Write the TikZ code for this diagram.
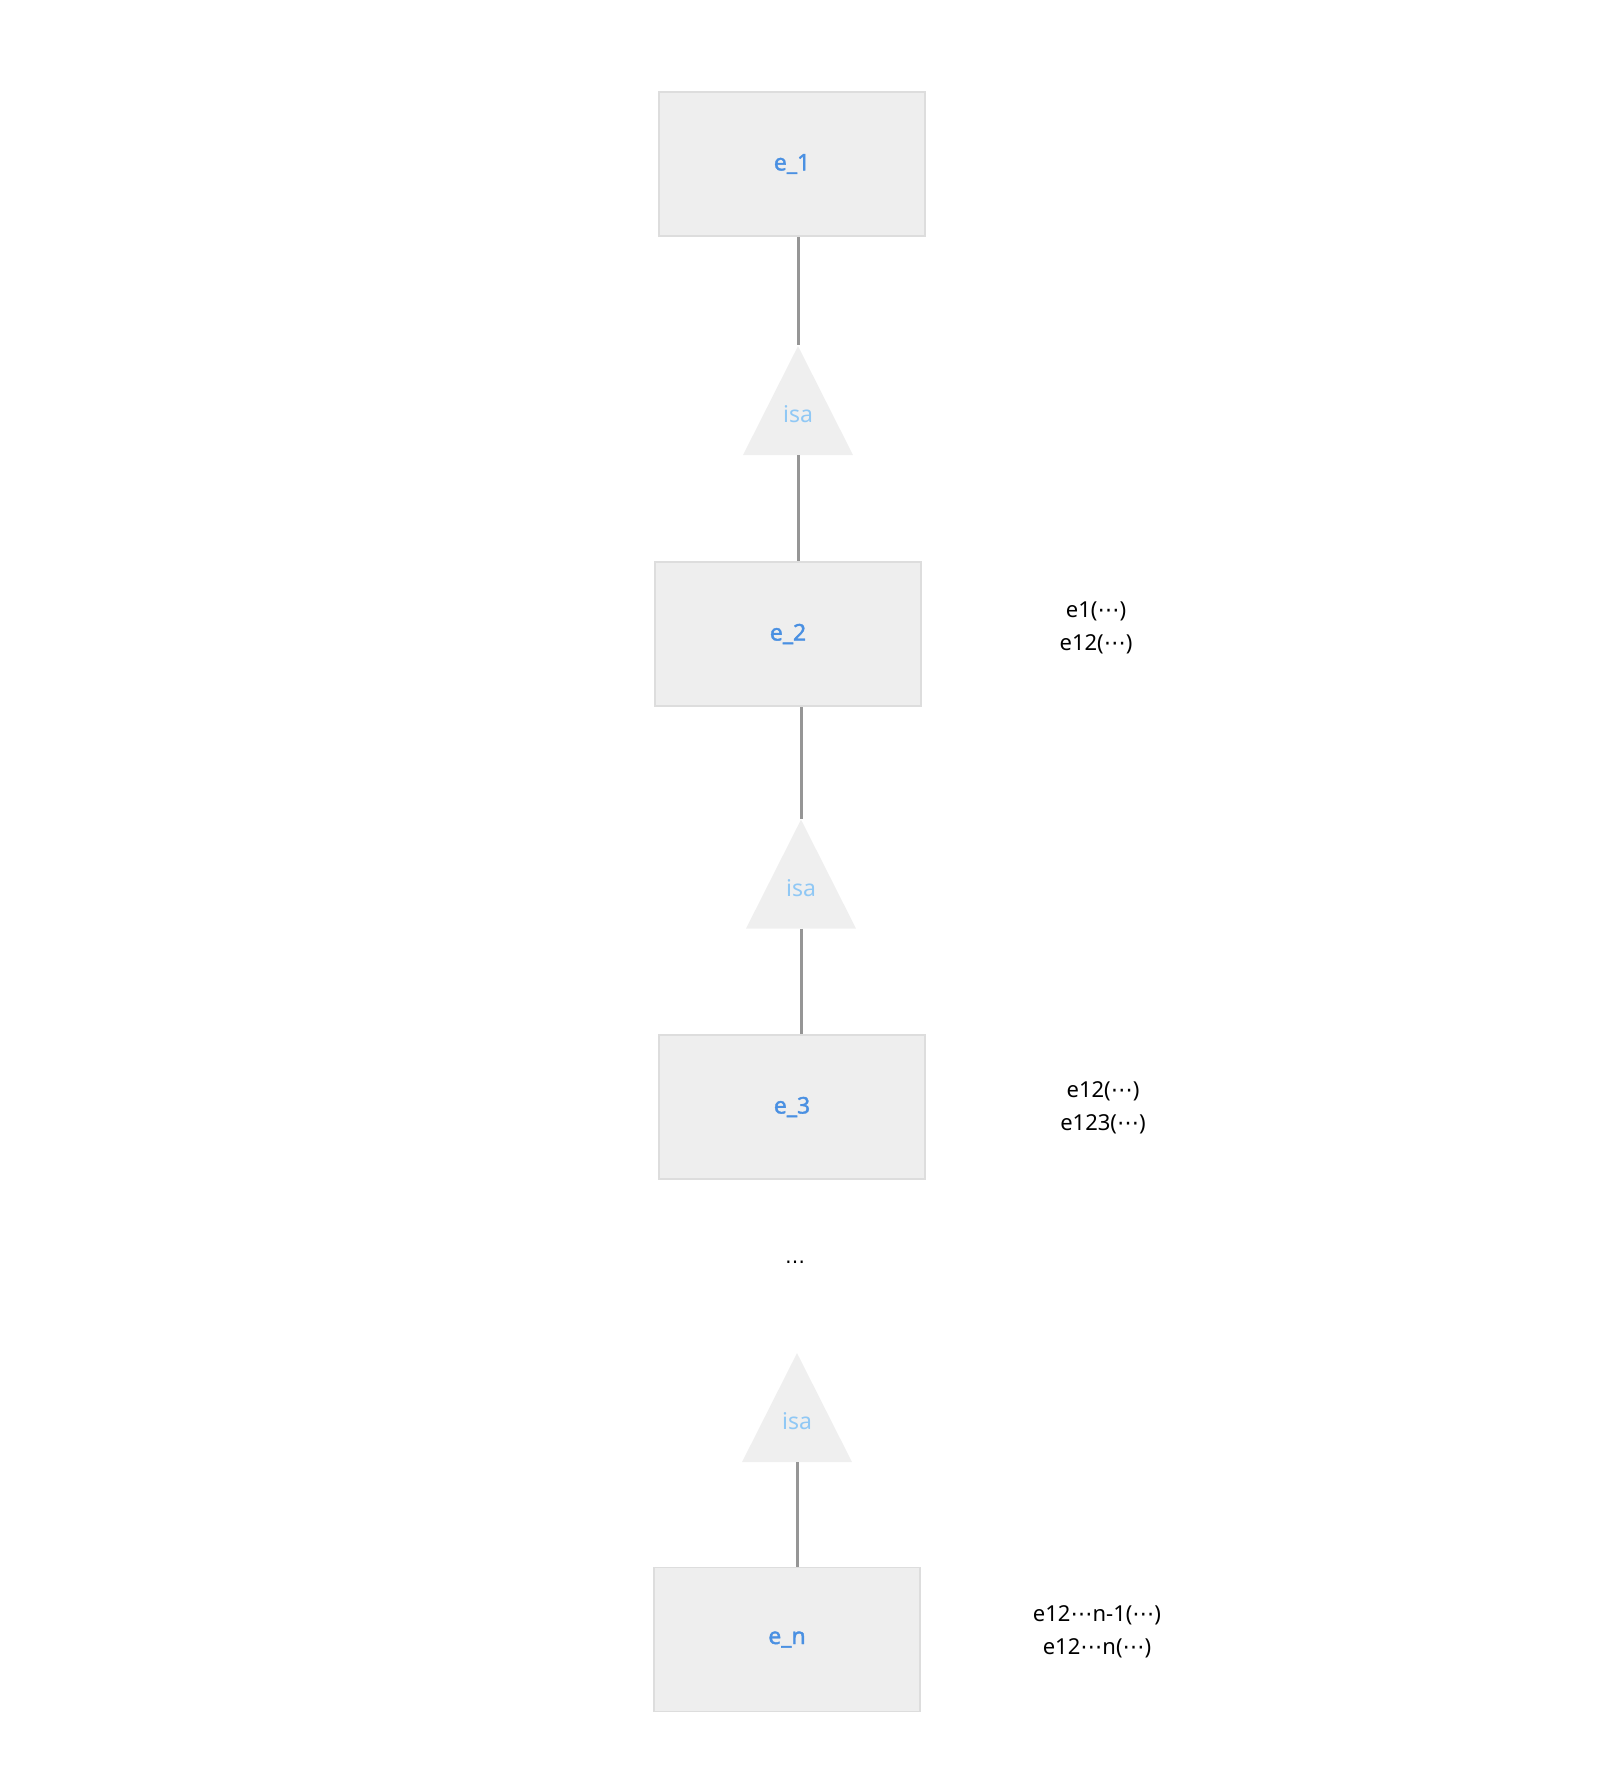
\documentclass[tikz,border=0pt]{standalone}
\usepackage{fontspec}
\setmainfont{Noto Sans}
\newfontfamily\symfont{DejaVu Sans}
\newfontfamily\entfont[FakeBold=1.6]{Noto Sans}
\usetikzlibrary{shapes.geometric}
\definecolor{boxfill}{HTML}{EEEEEE}
\definecolor{boxline}{HTML}{DDDDDD}
\definecolor{trifill}{HTML}{EFEFEF}
\definecolor{linkgray}{HTML}{969696}
\definecolor{entblue}{HTML}{4A90E2}
\definecolor{isablue}{HTML}{90C8F5}
\newcommand{\ctd}{{\symfont ⋯}}
\newcommand{\isatext}{\smash{\raisebox{3.8pt}{isa}}}

\begin{document}
\begin{tikzpicture}[x=0.5pt,y=-0.5pt,
  entity/.style={draw=boxline, fill=boxfill, line width=0.6pt, minimum width=133pt, minimum height=72pt, inner sep=0pt, text=entblue, font=\entfont\fontsize{11.5}{13}\selectfont},
  isa/.style={isosceles triangle, shape border rotate=90, isosceles triangle stretches, anchor=apex, fill=trifill, minimum width=55pt, minimum height=54.5pt, inner sep=0pt, text=isablue, font=\fontsize{11.5}{13}\selectfont},
  link/.style={draw=linkgray, line width=1.5pt},
  note/.style={align=center, font=\fontsize{11}{16.5}\selectfont}]
\useasboundingbox (0,0) rectangle (1603,1786);
% entities
\node[entity] (e1) at (792,164) {\raisebox{-1.5pt}{e\_1}};
\node[entity] (e2) at (788,634) {\raisebox{-1.5pt}{e\_2}};
\node[entity] (e3) at (792,1107) {\raisebox{-1.5pt}{e\_3}};
\node[entity] (en) at (787,1639.5) {\raisebox{-1.5pt}{e\_n}};
% isa triangles
\node[isa] (isa1) at (798,345) {\isatext};
\node[isa] (isa2) at (801,818.5) {\isatext};
\node[isa] (isa3) at (797,1352) {\isatext};
\node (dots) at (795,1265) {\ctd};
% links
\draw[link] (isa1.apex) -- (isa1.apex |- e1.south);
\draw[link] (isa1.south) -- (isa1.south |- e2.north);
\draw[link] (isa2.apex) -- (isa2.apex |- e2.south);
\draw[link] (isa2.south) -- (isa2.south |- e3.north);
\draw[link] (isa3.south) -- (isa3.south |- en.north);
% notes
\node[note] (n2) at (1096,628) {e1(\ctd)\\e12(\ctd)};
\node[note] (n3) at (1103,1108) {e12(\ctd)\\e123(\ctd)};
\node[note] (nn) at (1097,1632) {e12\ctd n-1(\ctd)\\e12\ctd n(\ctd)};
\end{tikzpicture}
\end{document}
